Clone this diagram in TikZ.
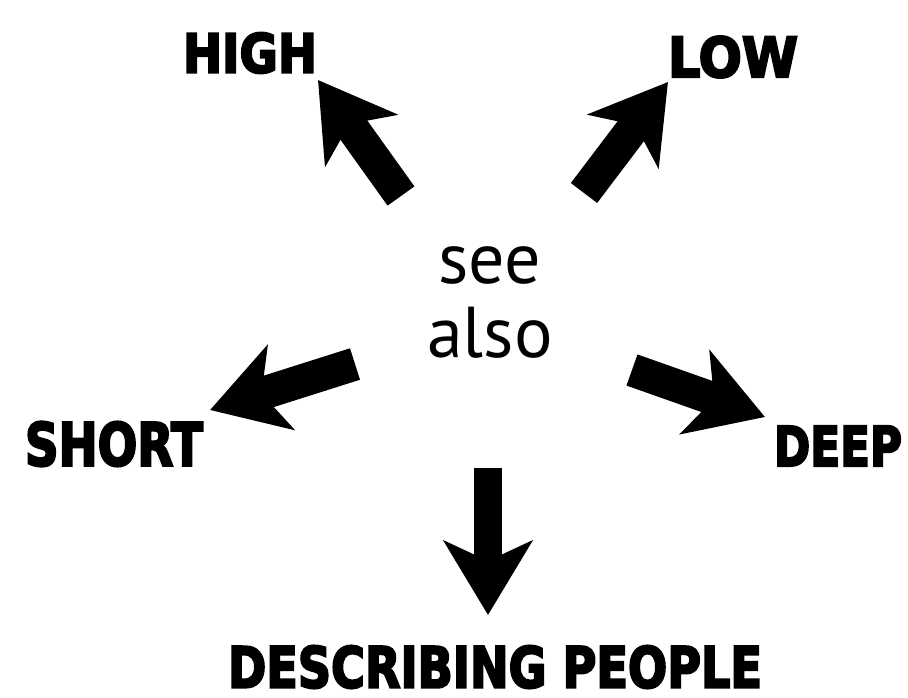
\documentclass[tikz,border=0pt]{standalone}
\usepackage{fontspec}
\usepackage{graphicx}
\usetikzlibrary{arrows.meta}
\setmainfont{PT Sans}
\newfontfamily\labfont{DejaVu Sans Bold}[FakeBold=4]
\begin{document}
\begin{tikzpicture}[x=1pt,y=-1pt,
  lbl/.style={inner sep=0pt, font=\labfont},
  fatarrow/.style={line width=33pt, -{Stealth[length=74pt,width=88pt,inset=20pt]}}]
\useasboundingbox (0,0) rectangle (908,697);
% labels
\node[lbl] (high) at (250,53) {\resizebox{134pt}{40pt}{HIGH}};
\node[lbl] (low) at (733,57) {\resizebox{130pt}{41pt}{LOW}};
\node[lbl] (short) at (114,444) {\resizebox{178pt}{44pt}{SHORT}};
\node[lbl] (deep) at (838,446) {\resizebox{128pt}{40pt}{DEEP}};
\node[lbl] (people) at (495,667) {\resizebox{534pt}{42pt}{DESCRIBING PEOPLE}};
% centre
\node[inner sep=0pt, align=center, font=\fontsize{72}{74}\selectfont] (see) at (490,302) {see\\also};
% arrow ends
\coordinate (hT) at (401,196); \coordinate (hH) at (318,80);
\coordinate (lT) at (584,193); \coordinate (lH) at (668,82);
\coordinate (sT) at (355,364); \coordinate (sH) at (210,410);
\coordinate (dT) at (632,370); \coordinate (dH) at (765,417);
\coordinate (pT) at (488,468); \coordinate (pH) at (488,615);
\draw[fatarrow] (hT) -- (hH);
\draw[fatarrow] (lT) -- (lH);
\draw[fatarrow] (sT) -- (sH);
\draw[fatarrow] (dT) -- (dH);
\draw[fatarrow, line width=28pt] (pT) -- (pH);
\end{tikzpicture}
\end{document}
